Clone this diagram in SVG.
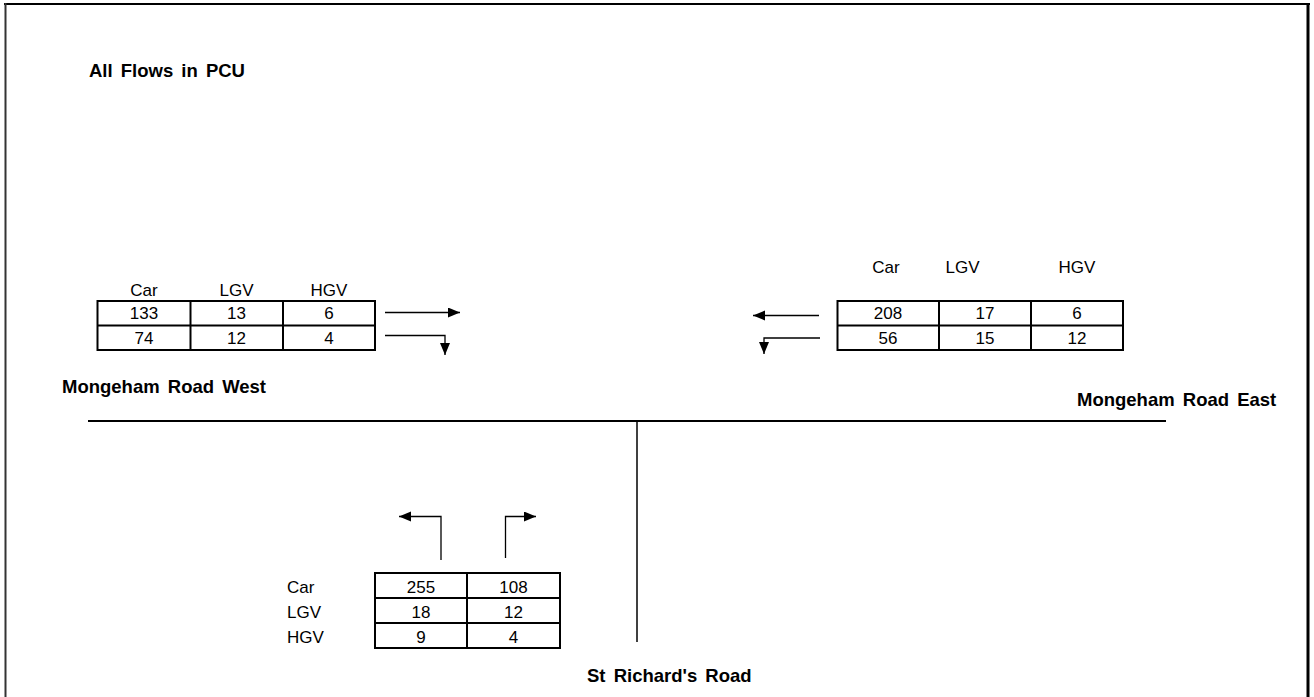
<svg xmlns="http://www.w3.org/2000/svg" width="1314" height="697" viewBox="0 0 1314 697">
<defs>
<marker id="ah" markerUnits="userSpaceOnUse" markerWidth="13" markerHeight="11" refX="12" refY="5" orient="auto">
<path d="M0,0 L12,5 L0,10 z" fill="#000"/>
</marker>
<style>
text{font-family:"Liberation Sans",Arial,sans-serif;fill:#000}
.t{font-size:17px;text-anchor:middle}
.l{font-size:17px}
.b{font-size:18.5px;font-weight:bold;word-spacing:3px}
.grid{stroke:#000;stroke-width:2;fill:none}
.road{stroke:#000;fill:none}
.arr{stroke:#000;stroke-width:1.3;fill:none;marker-end:url(#ah)}
</style>
</defs>
<rect width="1314" height="697" fill="#fff"/>
<g id="frame">
<line x1="4" y1="4" x2="1310" y2="4" stroke="#000" stroke-width="2"/>
<line x1="5.5" y1="3" x2="5.5" y2="697" stroke="#333" stroke-width="2"/>
<line x1="1308" y1="3" x2="1308" y2="697" stroke="#000" stroke-width="3"/>
</g>
<g id="title"><text class="b" x="89" y="77">All Flows in PCU</text></g>
<g id="roads">
<line class="road" x1="88" y1="421" x2="1166" y2="421" stroke-width="2"/>
<line class="road" x1="637" y1="421" x2="637" y2="642" stroke-width="1.5"/>
</g>
<g id="label-west"><text class="b" x="62" y="393">Mongeham Road West</text></g>
<g id="label-east"><text class="b" x="1077" y="406">Mongeham Road East</text></g>
<g id="label-south"><text class="b" x="587" y="682">St Richard's Road</text></g>
<g id="table-west">
<text class="t" x="144" y="296">Car</text>
<text class="t" x="236.5" y="296">LGV</text>
<text class="t" x="329" y="296">HGV</text>
<rect class="grid" x="97.5" y="301" width="277.5" height="49"/>
<line class="grid" x1="97.5" y1="325.5" x2="375" y2="325.5"/>
<line class="grid" x1="190.5" y1="301" x2="190.5" y2="350"/>
<line class="grid" x1="283" y1="301" x2="283" y2="350"/>
<text class="t" x="144" y="319">133</text>
<text class="t" x="236.5" y="319">13</text>
<text class="t" x="329" y="319">6</text>
<text class="t" x="144" y="344">74</text>
<text class="t" x="236.5" y="344">12</text>
<text class="t" x="329" y="344">4</text>
</g>
<g id="table-east">
<text class="t" x="886" y="273">Car</text>
<text class="t" x="962.5" y="273">LGV</text>
<text class="t" x="1077" y="273">HGV</text>
<rect class="grid" x="837.5" y="301" width="285.5" height="49"/>
<line class="grid" x1="837.5" y1="325.5" x2="1123" y2="325.5"/>
<line class="grid" x1="939" y1="301" x2="939" y2="350"/>
<line class="grid" x1="1031" y1="301" x2="1031" y2="350"/>
<text class="t" x="888" y="319">208</text>
<text class="t" x="985" y="319">17</text>
<text class="t" x="1077" y="319">6</text>
<text class="t" x="888" y="344">56</text>
<text class="t" x="985" y="344">15</text>
<text class="t" x="1077" y="344">12</text>
</g>
<g id="table-south">
<text class="l" x="287" y="593">Car</text>
<text class="l" x="287" y="618">LGV</text>
<text class="l" x="287" y="643">HGV</text>
<rect class="grid" x="375" y="573" width="185" height="75"/>
<line class="grid" x1="375" y1="598" x2="560" y2="598"/>
<line class="grid" x1="375" y1="623" x2="560" y2="623"/>
<line class="grid" x1="467" y1="573" x2="467" y2="648"/>
<text class="t" x="421" y="593">255</text>
<text class="t" x="513.5" y="593">108</text>
<text class="t" x="421" y="618">18</text>
<text class="t" x="513.5" y="618">12</text>
<text class="t" x="421" y="643">9</text>
<text class="t" x="513.5" y="643">4</text>
</g>
<g id="connectors">
<path class="arr" d="M385,312.5 L460,312.5"/>
<path class="arr" d="M385,335.5 L445,335.5 L445,355"/>
<path class="arr" d="M819,315.5 L753,315.5"/>
<path class="arr" d="M820,338 L764,338 L764,354"/>
<path class="arr" d="M441,560 L441,516.5 L399,516.5"/>
<path class="arr" d="M505.5,558 L505.5,516.5 L536,516.5"/>
</g>
</svg>
